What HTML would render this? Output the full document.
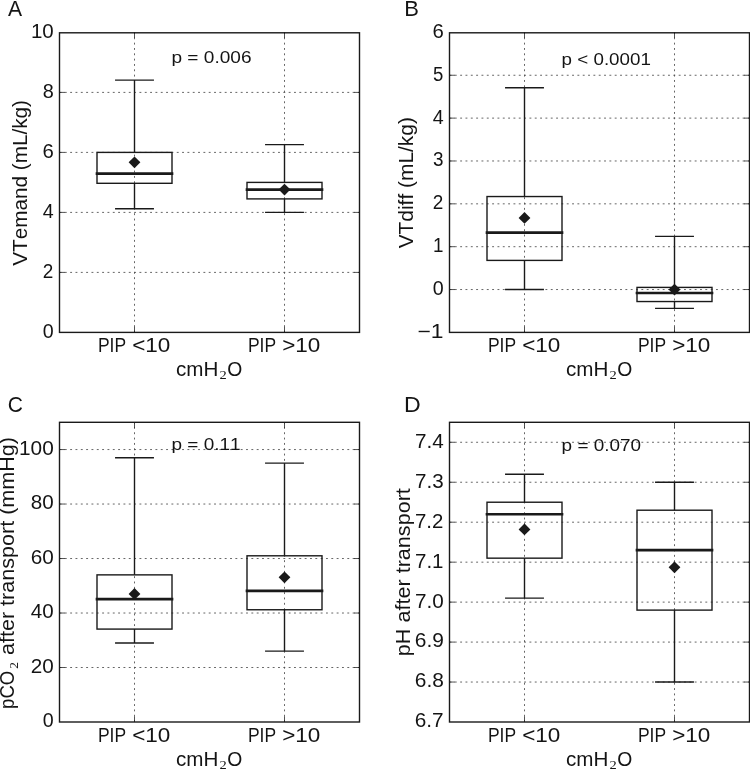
<!DOCTYPE html>
<html><head><meta charset="utf-8"><title>Boxplots</title>
<style>
html,body{margin:0;padding:0;background:#fff;}
body{width:750px;height:769px;overflow:hidden;font-family:"Liberation Sans", sans-serif;}
text{font-kerning:none;font-feature-settings:"kern" 0;}
svg{display:block;filter:grayscale(1) blur(0.35px);}
</style></head>
<body>
<svg width="750" height="769" viewBox="0 0 750 769">
<rect x="0" y="0" width="750" height="769" fill="#fff"/>
<g display="inline" stroke="#4a4a4a" stroke-width="0.85" stroke-dasharray="1.9 3.43" fill="none">
<line x1="59.50" y1="272.40" x2="359.50" y2="272.40"/>
<line x1="59.50" y1="212.40" x2="359.50" y2="212.40"/>
<line x1="59.50" y1="152.40" x2="359.50" y2="152.40"/>
<line x1="59.50" y1="92.40" x2="359.50" y2="92.40"/>
<line x1="134.50" y1="332.40" x2="134.50" y2="32.40"/>
<line x1="284.50" y1="332.40" x2="284.50" y2="32.40"/>
</g>
<g stroke="#1a1a1a" stroke-width="0.75">
<line x1="59.50" y1="272.40" x2="65.00" y2="272.40"/>
<line x1="359.50" y1="272.40" x2="354.00" y2="272.40"/>
<line x1="59.50" y1="212.40" x2="65.00" y2="212.40"/>
<line x1="359.50" y1="212.40" x2="354.00" y2="212.40"/>
<line x1="59.50" y1="152.40" x2="65.00" y2="152.40"/>
<line x1="359.50" y1="152.40" x2="354.00" y2="152.40"/>
<line x1="59.50" y1="92.40" x2="65.00" y2="92.40"/>
<line x1="359.50" y1="92.40" x2="354.00" y2="92.40"/>
<line x1="134.50" y1="332.40" x2="134.50" y2="326.90"/>
<line x1="134.50" y1="32.40" x2="134.50" y2="37.90"/>
<line x1="284.50" y1="332.40" x2="284.50" y2="326.90"/>
<line x1="284.50" y1="32.40" x2="284.50" y2="37.90"/>
</g>
<g stroke="#1a1a1a" stroke-width="1.4" fill="none" stroke-linecap="square">
<rect x="97.00" y="152.40" width="75.00" height="30.90"/>
<line x1="134.50" y1="152.40" x2="134.50" y2="80.10" stroke-linecap="butt"/>
<line x1="134.50" y1="183.30" x2="134.50" y2="208.80" stroke-linecap="butt"/>
<line x1="115.75" y1="80.10" x2="153.25" y2="80.10"/>
<line x1="115.75" y1="208.80" x2="153.25" y2="208.80"/>
<line x1="97.00" y1="173.70" x2="172.00" y2="173.70" stroke-width="2.67"/>
<rect x="247.00" y="182.40" width="75.00" height="16.50"/>
<line x1="284.50" y1="182.40" x2="284.50" y2="144.60" stroke-linecap="butt"/>
<line x1="284.50" y1="198.90" x2="284.50" y2="212.40" stroke-linecap="butt"/>
<line x1="265.75" y1="144.60" x2="303.25" y2="144.60"/>
<line x1="265.75" y1="212.40" x2="303.25" y2="212.40"/>
<line x1="247.00" y1="189.60" x2="322.00" y2="189.60" stroke-width="2.67"/>
</g>
<polygon points="134.50,156.40 140.40,162.30 134.50,168.20 128.60,162.30" fill="#1a1a1a"/>
<polygon points="284.50,183.70 290.40,189.60 284.50,195.50 278.60,189.60" fill="#1a1a1a"/>
<rect x="59.50" y="32.80" width="300" height="299.60" fill="none" stroke="#1a1a1a" stroke-width="1.4"/>
<g font-family='"Liberation Sans", sans-serif' fill="#141414">
<text x="42.78" y="337.80" font-size="19.6" textLength="10.95" lengthAdjust="spacingAndGlyphs">0</text>
<text x="42.73" y="277.80" font-size="19.6" textLength="10.55" lengthAdjust="spacingAndGlyphs">2</text>
<text x="42.78" y="217.80" font-size="19.6" textLength="10.95" lengthAdjust="spacingAndGlyphs">4</text>
<text x="42.59" y="157.80" font-size="19.6" textLength="11.33" lengthAdjust="spacingAndGlyphs">6</text>
<text x="42.72" y="97.80" font-size="19.6" textLength="11.06" lengthAdjust="spacingAndGlyphs">8</text>
<text x="30.93" y="37.80" font-size="19.6" textLength="22.83" lengthAdjust="spacingAndGlyphs">10</text>
<text x="97.97" y="351.90" font-size="19.6" textLength="28.15" lengthAdjust="spacingAndGlyphs">PIP</text>
<text x="132.19" y="351.90" font-size="19.6" textLength="38.19" lengthAdjust="spacingAndGlyphs">&lt;10</text>
<text x="247.97" y="351.90" font-size="19.6" textLength="28.15" lengthAdjust="spacingAndGlyphs">PIP</text>
<text x="282.19" y="351.90" font-size="19.6" textLength="38.19" lengthAdjust="spacingAndGlyphs">&gt;10</text>
<text x="176.02" y="376.20" font-size="19.6" textLength="42.36" lengthAdjust="spacingAndGlyphs">cmH</text>
<text x="219.46" y="379.20" font-size="13.0" textLength="7.23" lengthAdjust="spacingAndGlyphs" font-family='"Liberation Serif", serif'>2</text>
<text x="227.18" y="376.20" font-size="19.6" textLength="15.04" lengthAdjust="spacingAndGlyphs">O</text>
<text x="171.47" y="62.60" font-size="16.8" textLength="80.07" lengthAdjust="spacingAndGlyphs">p = 0.006</text>
<text x="7.96" y="15.60" font-size="22.5" textLength="14.08" lengthAdjust="spacingAndGlyphs">A</text>
<g transform="translate(27.00,0) rotate(-90)">
<text x="-265.79" y="0.00" font-size="19.6" textLength="165.78" lengthAdjust="spacingAndGlyphs">VTemand (mL/kg)</text>
</g>
</g>
<g display="inline" stroke="#4a4a4a" stroke-width="0.85" stroke-dasharray="1.9 3.43" fill="none">
<line x1="449.50" y1="289.54" x2="749.50" y2="289.54"/>
<line x1="449.50" y1="246.69" x2="749.50" y2="246.69"/>
<line x1="449.50" y1="203.83" x2="749.50" y2="203.83"/>
<line x1="449.50" y1="160.97" x2="749.50" y2="160.97"/>
<line x1="449.50" y1="118.11" x2="749.50" y2="118.11"/>
<line x1="449.50" y1="75.26" x2="749.50" y2="75.26"/>
<line x1="524.50" y1="332.40" x2="524.50" y2="32.40"/>
<line x1="674.50" y1="332.40" x2="674.50" y2="32.40"/>
</g>
<g stroke="#1a1a1a" stroke-width="0.75">
<line x1="449.50" y1="289.54" x2="455.00" y2="289.54"/>
<line x1="749.50" y1="289.54" x2="744.00" y2="289.54"/>
<line x1="449.50" y1="246.69" x2="455.00" y2="246.69"/>
<line x1="749.50" y1="246.69" x2="744.00" y2="246.69"/>
<line x1="449.50" y1="203.83" x2="455.00" y2="203.83"/>
<line x1="749.50" y1="203.83" x2="744.00" y2="203.83"/>
<line x1="449.50" y1="160.97" x2="455.00" y2="160.97"/>
<line x1="749.50" y1="160.97" x2="744.00" y2="160.97"/>
<line x1="449.50" y1="118.11" x2="455.00" y2="118.11"/>
<line x1="749.50" y1="118.11" x2="744.00" y2="118.11"/>
<line x1="449.50" y1="75.26" x2="455.00" y2="75.26"/>
<line x1="749.50" y1="75.26" x2="744.00" y2="75.26"/>
<line x1="524.50" y1="332.40" x2="524.50" y2="326.90"/>
<line x1="524.50" y1="32.40" x2="524.50" y2="37.90"/>
<line x1="674.50" y1="332.40" x2="674.50" y2="326.90"/>
<line x1="674.50" y1="32.40" x2="674.50" y2="37.90"/>
</g>
<g stroke="#1a1a1a" stroke-width="1.4" fill="none" stroke-linecap="square">
<rect x="487.00" y="196.54" width="75.00" height="63.86"/>
<line x1="524.50" y1="196.54" x2="524.50" y2="87.69" stroke-linecap="butt"/>
<line x1="524.50" y1="260.40" x2="524.50" y2="289.54" stroke-linecap="butt"/>
<line x1="505.75" y1="87.69" x2="543.25" y2="87.69"/>
<line x1="505.75" y1="289.54" x2="543.25" y2="289.54"/>
<line x1="487.00" y1="232.54" x2="562.00" y2="232.54" stroke-width="2.67"/>
<rect x="637.00" y="287.40" width="75.00" height="14.14"/>
<line x1="674.50" y1="287.40" x2="674.50" y2="236.40" stroke-linecap="butt"/>
<line x1="674.50" y1="301.54" x2="674.50" y2="308.40" stroke-linecap="butt"/>
<line x1="655.75" y1="236.40" x2="693.25" y2="236.40"/>
<line x1="655.75" y1="308.40" x2="693.25" y2="308.40"/>
<line x1="637.00" y1="292.97" x2="712.00" y2="292.97" stroke-width="2.67"/>
</g>
<polygon points="524.50,212.07 530.40,217.97 524.50,223.87 518.60,217.97" fill="#1a1a1a"/>
<polygon points="674.50,283.64 680.40,289.54 674.50,295.44 668.60,289.54" fill="#1a1a1a"/>
<rect x="449.50" y="32.80" width="300" height="299.60" fill="none" stroke="#1a1a1a" stroke-width="1.4"/>
<g font-family='"Liberation Sans", sans-serif' fill="#141414">
<text x="417.53" y="337.80" font-size="19.6" textLength="26.06" lengthAdjust="spacingAndGlyphs">−1</text>
<text x="432.78" y="294.94" font-size="19.6" textLength="10.95" lengthAdjust="spacingAndGlyphs">0</text>
<text x="432.94" y="252.09" font-size="19.6" textLength="10.45" lengthAdjust="spacingAndGlyphs">1</text>
<text x="432.73" y="209.23" font-size="19.6" textLength="10.55" lengthAdjust="spacingAndGlyphs">2</text>
<text x="433.02" y="166.37" font-size="19.6" textLength="10.51" lengthAdjust="spacingAndGlyphs">3</text>
<text x="432.78" y="123.51" font-size="19.6" textLength="10.95" lengthAdjust="spacingAndGlyphs">4</text>
<text x="433.02" y="80.66" font-size="19.6" textLength="10.33" lengthAdjust="spacingAndGlyphs">5</text>
<text x="432.59" y="37.80" font-size="19.6" textLength="11.33" lengthAdjust="spacingAndGlyphs">6</text>
<text x="487.97" y="351.90" font-size="19.6" textLength="28.15" lengthAdjust="spacingAndGlyphs">PIP</text>
<text x="522.19" y="351.90" font-size="19.6" textLength="38.19" lengthAdjust="spacingAndGlyphs">&lt;10</text>
<text x="637.97" y="351.90" font-size="19.6" textLength="28.15" lengthAdjust="spacingAndGlyphs">PIP</text>
<text x="672.19" y="351.90" font-size="19.6" textLength="38.19" lengthAdjust="spacingAndGlyphs">&gt;10</text>
<text x="566.02" y="376.20" font-size="19.6" textLength="42.36" lengthAdjust="spacingAndGlyphs">cmH</text>
<text x="609.46" y="379.20" font-size="13.0" textLength="7.23" lengthAdjust="spacingAndGlyphs" font-family='"Liberation Serif", serif'>2</text>
<text x="617.18" y="376.20" font-size="19.6" textLength="15.04" lengthAdjust="spacingAndGlyphs">O</text>
<text x="561.59" y="65.00" font-size="16.8" textLength="89.33" lengthAdjust="spacingAndGlyphs">p &lt; 0.0001</text>
<text x="404.20" y="15.70" font-size="22.5" textLength="14.66" lengthAdjust="spacingAndGlyphs">B</text>
<g transform="translate(413.30,0) rotate(-90)">
<text x="-248.39" y="0.00" font-size="19.6" textLength="131.29" lengthAdjust="spacingAndGlyphs">VTdiff (mL/kg)</text>
</g>
</g>
<g display="inline" stroke="#4a4a4a" stroke-width="0.85" stroke-dasharray="1.9 3.43" fill="none">
<line x1="59.50" y1="667.51" x2="359.50" y2="667.51"/>
<line x1="59.50" y1="613.02" x2="359.50" y2="613.02"/>
<line x1="59.50" y1="558.53" x2="359.50" y2="558.53"/>
<line x1="59.50" y1="504.04" x2="359.50" y2="504.04"/>
<line x1="59.50" y1="449.55" x2="359.50" y2="449.55"/>
<line x1="134.50" y1="722.00" x2="134.50" y2="422.30"/>
<line x1="284.50" y1="722.00" x2="284.50" y2="422.30"/>
</g>
<g stroke="#1a1a1a" stroke-width="0.75">
<line x1="59.50" y1="667.51" x2="65.00" y2="667.51"/>
<line x1="359.50" y1="667.51" x2="354.00" y2="667.51"/>
<line x1="59.50" y1="613.02" x2="65.00" y2="613.02"/>
<line x1="359.50" y1="613.02" x2="354.00" y2="613.02"/>
<line x1="59.50" y1="558.53" x2="65.00" y2="558.53"/>
<line x1="359.50" y1="558.53" x2="354.00" y2="558.53"/>
<line x1="59.50" y1="504.04" x2="65.00" y2="504.04"/>
<line x1="359.50" y1="504.04" x2="354.00" y2="504.04"/>
<line x1="59.50" y1="449.55" x2="65.00" y2="449.55"/>
<line x1="359.50" y1="449.55" x2="354.00" y2="449.55"/>
<line x1="134.50" y1="722.00" x2="134.50" y2="716.50"/>
<line x1="134.50" y1="422.30" x2="134.50" y2="427.80"/>
<line x1="284.50" y1="722.00" x2="284.50" y2="716.50"/>
<line x1="284.50" y1="422.30" x2="284.50" y2="427.80"/>
</g>
<g stroke="#1a1a1a" stroke-width="1.4" fill="none" stroke-linecap="square">
<rect x="97.00" y="574.87" width="75.00" height="54.22"/>
<line x1="134.50" y1="574.87" x2="134.50" y2="457.72" stroke-linecap="butt"/>
<line x1="134.50" y1="629.09" x2="134.50" y2="642.99" stroke-linecap="butt"/>
<line x1="115.75" y1="457.72" x2="153.25" y2="457.72"/>
<line x1="115.75" y1="642.99" x2="153.25" y2="642.99"/>
<line x1="97.00" y1="599.12" x2="172.00" y2="599.12" stroke-width="2.67"/>
<rect x="247.00" y="555.80" width="75.00" height="53.95"/>
<line x1="284.50" y1="555.80" x2="284.50" y2="463.17" stroke-linecap="butt"/>
<line x1="284.50" y1="609.75" x2="284.50" y2="651.16" stroke-linecap="butt"/>
<line x1="265.75" y1="463.17" x2="303.25" y2="463.17"/>
<line x1="265.75" y1="651.16" x2="303.25" y2="651.16"/>
<line x1="247.00" y1="590.95" x2="322.00" y2="590.95" stroke-width="2.67"/>
</g>
<polygon points="134.50,588.05 140.40,593.95 134.50,599.85 128.60,593.95" fill="#1a1a1a"/>
<polygon points="284.50,571.43 290.40,577.33 284.50,583.23 278.60,577.33" fill="#1a1a1a"/>
<rect x="59.50" y="422.30" width="300" height="299.70" fill="none" stroke="#1a1a1a" stroke-width="1.4"/>
<g font-family='"Liberation Sans", sans-serif' fill="#141414">
<text x="42.78" y="727.40" font-size="19.6" textLength="10.95" lengthAdjust="spacingAndGlyphs">0</text>
<text x="30.77" y="672.91" font-size="19.6" textLength="23.00" lengthAdjust="spacingAndGlyphs">20</text>
<text x="30.88" y="618.42" font-size="19.6" textLength="22.88" lengthAdjust="spacingAndGlyphs">40</text>
<text x="30.69" y="563.93" font-size="19.6" textLength="23.08" lengthAdjust="spacingAndGlyphs">60</text>
<text x="30.81" y="509.44" font-size="19.6" textLength="22.95" lengthAdjust="spacingAndGlyphs">80</text>
<text x="19.03" y="454.95" font-size="19.6" textLength="34.74" lengthAdjust="spacingAndGlyphs">100</text>
<text x="97.97" y="741.60" font-size="19.6" textLength="28.15" lengthAdjust="spacingAndGlyphs">PIP</text>
<text x="132.19" y="741.60" font-size="19.6" textLength="38.19" lengthAdjust="spacingAndGlyphs">&lt;10</text>
<text x="247.97" y="741.60" font-size="19.6" textLength="28.15" lengthAdjust="spacingAndGlyphs">PIP</text>
<text x="282.19" y="741.60" font-size="19.6" textLength="38.19" lengthAdjust="spacingAndGlyphs">&gt;10</text>
<text x="176.02" y="765.90" font-size="19.6" textLength="42.36" lengthAdjust="spacingAndGlyphs">cmH</text>
<text x="219.46" y="768.90" font-size="13.0" textLength="7.23" lengthAdjust="spacingAndGlyphs" font-family='"Liberation Serif", serif'>2</text>
<text x="227.18" y="765.90" font-size="19.6" textLength="15.04" lengthAdjust="spacingAndGlyphs">O</text>
<text x="171.48" y="449.70" font-size="16.8" textLength="69.15" lengthAdjust="spacingAndGlyphs">p = 0.11</text>
<text x="7.63" y="411.80" font-size="22.5" textLength="15.17" lengthAdjust="spacingAndGlyphs">C</text>
<g transform="translate(14.00,0) rotate(-90)">
<text x="-708.90" y="0.00" font-size="19.6" textLength="38.19" lengthAdjust="spacingAndGlyphs">pCO</text>
<text x="-668.69" y="3.50" font-size="13.0" textLength="6.74" lengthAdjust="spacingAndGlyphs" font-family='"Liberation Serif", serif'>2</text>
<text x="-661.01" y="0.00" font-size="19.6" textLength="224.04" lengthAdjust="spacingAndGlyphs">&#160;after&#160;transport&#160;(mmHg)</text>
</g>
</g>
<g display="inline" stroke="#4a4a4a" stroke-width="0.85" stroke-dasharray="1.9 3.43" fill="none">
<line x1="449.50" y1="682.04" x2="749.50" y2="682.04"/>
<line x1="449.50" y1="642.08" x2="749.50" y2="642.08"/>
<line x1="449.50" y1="602.12" x2="749.50" y2="602.12"/>
<line x1="449.50" y1="562.16" x2="749.50" y2="562.16"/>
<line x1="449.50" y1="522.20" x2="749.50" y2="522.20"/>
<line x1="449.50" y1="482.24" x2="749.50" y2="482.24"/>
<line x1="449.50" y1="442.28" x2="749.50" y2="442.28"/>
<line x1="524.50" y1="722.00" x2="524.50" y2="422.30"/>
<line x1="674.50" y1="722.00" x2="674.50" y2="422.30"/>
</g>
<g stroke="#1a1a1a" stroke-width="0.75">
<line x1="449.50" y1="682.04" x2="455.00" y2="682.04"/>
<line x1="749.50" y1="682.04" x2="744.00" y2="682.04"/>
<line x1="449.50" y1="642.08" x2="455.00" y2="642.08"/>
<line x1="749.50" y1="642.08" x2="744.00" y2="642.08"/>
<line x1="449.50" y1="602.12" x2="455.00" y2="602.12"/>
<line x1="749.50" y1="602.12" x2="744.00" y2="602.12"/>
<line x1="449.50" y1="562.16" x2="455.00" y2="562.16"/>
<line x1="749.50" y1="562.16" x2="744.00" y2="562.16"/>
<line x1="449.50" y1="522.20" x2="455.00" y2="522.20"/>
<line x1="749.50" y1="522.20" x2="744.00" y2="522.20"/>
<line x1="449.50" y1="482.24" x2="455.00" y2="482.24"/>
<line x1="749.50" y1="482.24" x2="744.00" y2="482.24"/>
<line x1="449.50" y1="442.28" x2="455.00" y2="442.28"/>
<line x1="749.50" y1="442.28" x2="744.00" y2="442.28"/>
<line x1="524.50" y1="722.00" x2="524.50" y2="716.50"/>
<line x1="524.50" y1="422.30" x2="524.50" y2="427.80"/>
<line x1="674.50" y1="722.00" x2="674.50" y2="716.50"/>
<line x1="674.50" y1="422.30" x2="674.50" y2="427.80"/>
</g>
<g stroke="#1a1a1a" stroke-width="1.4" fill="none" stroke-linecap="square">
<rect x="487.00" y="502.22" width="75.00" height="55.94"/>
<line x1="524.50" y1="502.22" x2="524.50" y2="474.25" stroke-linecap="butt"/>
<line x1="524.50" y1="558.16" x2="524.50" y2="598.12" stroke-linecap="butt"/>
<line x1="505.75" y1="474.25" x2="543.25" y2="474.25"/>
<line x1="505.75" y1="598.12" x2="543.25" y2="598.12"/>
<line x1="487.00" y1="514.21" x2="562.00" y2="514.21" stroke-width="2.67"/>
<rect x="637.00" y="510.21" width="75.00" height="99.90"/>
<line x1="674.50" y1="510.21" x2="674.50" y2="482.24" stroke-linecap="butt"/>
<line x1="674.50" y1="610.11" x2="674.50" y2="682.04" stroke-linecap="butt"/>
<line x1="655.75" y1="482.24" x2="693.25" y2="482.24"/>
<line x1="655.75" y1="682.04" x2="693.25" y2="682.04"/>
<line x1="637.00" y1="550.17" x2="712.00" y2="550.17" stroke-width="2.67"/>
</g>
<polygon points="524.50,523.49 530.40,529.39 524.50,535.29 518.60,529.39" fill="#1a1a1a"/>
<polygon points="674.50,561.45 680.40,567.35 674.50,573.25 668.60,567.35" fill="#1a1a1a"/>
<rect x="449.50" y="422.30" width="300" height="299.70" fill="none" stroke="#1a1a1a" stroke-width="1.4"/>
<g font-family='"Liberation Sans", sans-serif' fill="#141414">
<text x="414.76" y="727.40" font-size="19.6" textLength="28.89" lengthAdjust="spacingAndGlyphs">6.7</text>
<text x="414.75" y="687.44" font-size="19.6" textLength="29.08" lengthAdjust="spacingAndGlyphs">6.8</text>
<text x="414.75" y="647.48" font-size="19.6" textLength="29.13" lengthAdjust="spacingAndGlyphs">6.9</text>
<text x="414.98" y="607.52" font-size="19.6" textLength="28.79" lengthAdjust="spacingAndGlyphs">7.0</text>
<text x="414.99" y="567.56" font-size="19.6" textLength="28.49" lengthAdjust="spacingAndGlyphs">7.1</text>
<text x="414.99" y="527.60" font-size="19.6" textLength="28.36" lengthAdjust="spacingAndGlyphs">7.2</text>
<text x="414.98" y="487.64" font-size="19.6" textLength="28.63" lengthAdjust="spacingAndGlyphs">7.3</text>
<text x="414.98" y="447.68" font-size="19.6" textLength="28.78" lengthAdjust="spacingAndGlyphs">7.4</text>
<text x="487.97" y="741.60" font-size="19.6" textLength="28.15" lengthAdjust="spacingAndGlyphs">PIP</text>
<text x="522.19" y="741.60" font-size="19.6" textLength="38.19" lengthAdjust="spacingAndGlyphs">&lt;10</text>
<text x="637.97" y="741.60" font-size="19.6" textLength="28.15" lengthAdjust="spacingAndGlyphs">PIP</text>
<text x="672.19" y="741.60" font-size="19.6" textLength="38.19" lengthAdjust="spacingAndGlyphs">&gt;10</text>
<text x="566.02" y="765.90" font-size="19.6" textLength="42.36" lengthAdjust="spacingAndGlyphs">cmH</text>
<text x="609.46" y="768.90" font-size="13.0" textLength="7.23" lengthAdjust="spacingAndGlyphs" font-family='"Liberation Serif", serif'>2</text>
<text x="617.18" y="765.90" font-size="19.6" textLength="15.04" lengthAdjust="spacingAndGlyphs">O</text>
<text x="561.58" y="450.50" font-size="16.8" textLength="79.56" lengthAdjust="spacingAndGlyphs">p = 0.070</text>
<text x="404.10" y="411.80" font-size="22.5" textLength="16.70" lengthAdjust="spacingAndGlyphs">D</text>
<g transform="translate(410.30,0) rotate(-90)">
<text x="-656.19" y="0.00" font-size="19.6" textLength="168.05" lengthAdjust="spacingAndGlyphs">pH after transport</text>
</g>
</g>
</svg>
</body></html>
